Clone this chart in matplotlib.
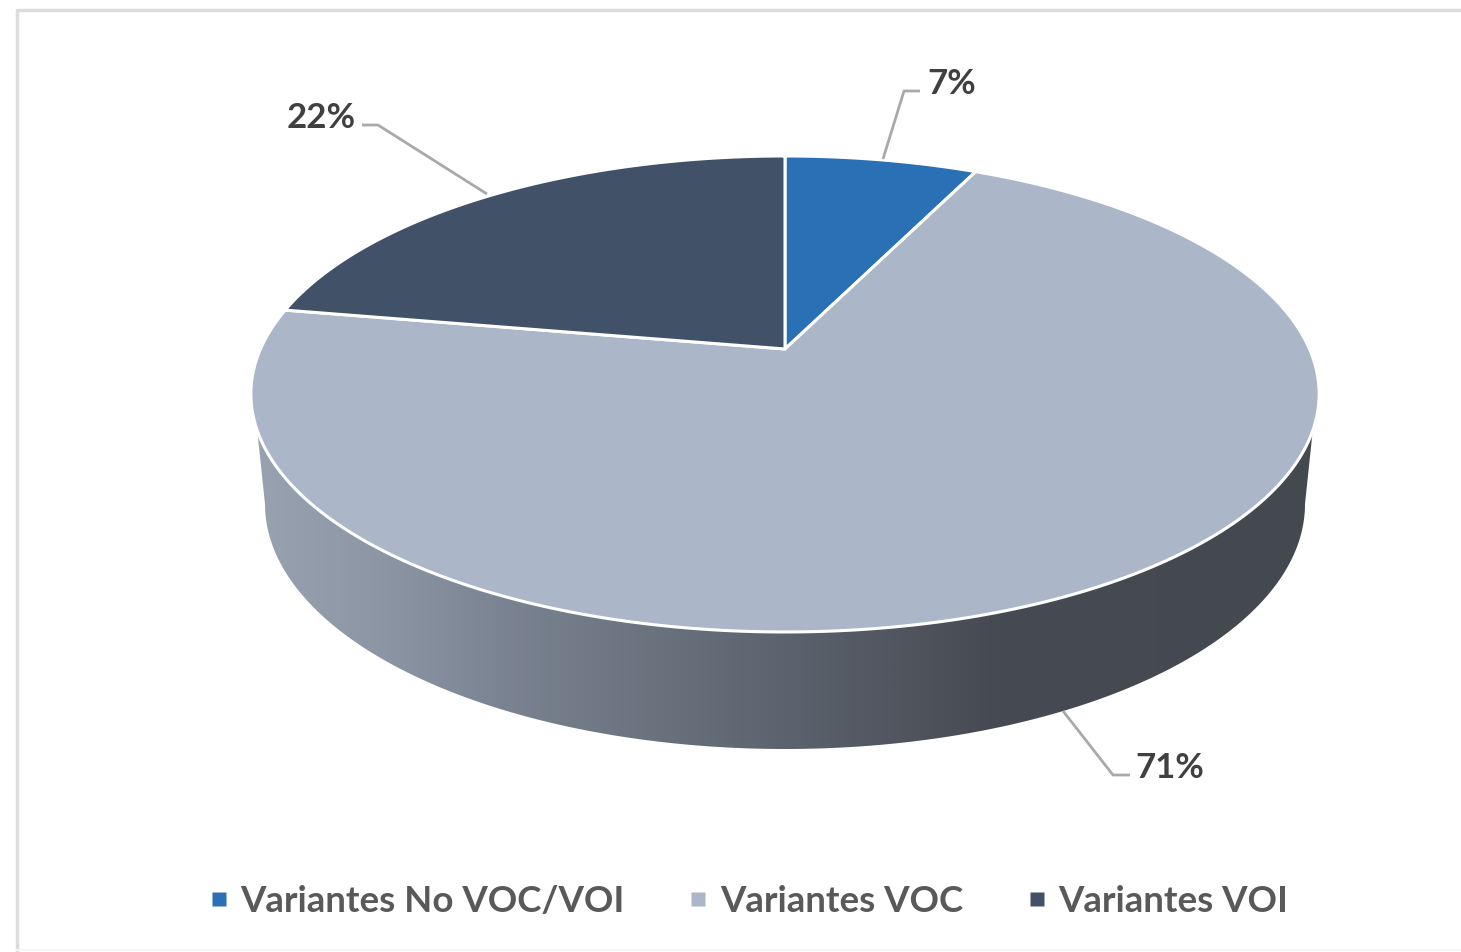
import numpy as np
import matplotlib
matplotlib.use("Agg")
import matplotlib.pyplot as plt
from matplotlib.colors import LinearSegmentedColormap
from matplotlib.lines import Line2D
from matplotlib.patches import Polygon

categories = ["Variantes No VOC/VOI", "Variantes VOC", "Variantes VOI"]
values = [7.0, 70.8, 22.2]
value_labels = ["7%", "71%", "22%"]
colors = ["#2a70b4", "#abb7c8", "#415168"]

W, H = 1461, 953
plt.rcParams["font.family"] = ["Lato", "DejaVu Sans"]
fig = plt.figure(figsize=(W / 100, H / 100), dpi=100, facecolor="white")
ax = fig.add_axes([0, 0, 1, 1])

wedges, _ = ax.pie(values, startangle=90, counterclock=False, radius=1, center=(0, 0))
ax.set_aspect("auto")

# Tilted-disc projection of the unit circle into the canvas
AX, AY, A, B, K = 785, 350, 524.5, 229.5, 0.189


def project(u, v):
    d = 1 + K * v
    return AX + A * u / d, AY - B * v / d


# Side wall with its horizontal shading
t = np.linspace(0, 2 * np.pi, 721)
tx, ty = project(np.cos(t), np.sin(t))
front = ty > 430
order = np.argsort(tx[front])
top_x, top_y = tx[front][order], ty[front][order]
bcx, bcy, brx, bry = 785, 505, 520, 245
a = np.linspace(np.pi, 2 * np.pi, 361)
bot_x, bot_y = bcx + brx * np.cos(a), bcy - bry * np.sin(a)
wall_pts = np.column_stack([
    np.r_[top_x[0], bot_x, top_x[-1], top_x[::-1]],
    np.r_[top_y[0], bot_y, top_y[-1], top_y[::-1]],
])
shade = LinearSegmentedColormap.from_list("shade", [
    (0.00, "#98a2b1"), (0.12, "#8d96a5"), (0.23, "#7b8492"),
    (0.50, "#5c636e"), (0.70, "#464a52"), (1.00, "#44484f"),
])
img = ax.imshow(np.linspace(0, 1, 512)[None, :], cmap=shade, aspect="auto",
                extent=(250, 1320, 760, 420), zorder=1, interpolation="bilinear")
img.set_clip_path(Polygon(wall_pts, closed=True, transform=ax.transData))

# Top face of the disc, from the pie's own wedge angles
for w, c in zip(wedges, colors):
    th = np.radians(np.linspace(w.theta1, w.theta2, 300))
    x, y = project(np.cos(th), np.sin(th))
    ax.fill(np.r_[AX, x], np.r_[AY, y], facecolor=c, edgecolor="white",
            linewidth=2.2, joinstyle="round", zorder=2)
    w.remove()

# Leader lines and value labels
leader = dict(color="#a9a9a9", linewidth=2, solid_capstyle="butt", zorder=3)
ax.plot([883, 904, 920], [160, 92, 92], **leader)
ax.plot([487, 378, 362], [195, 126, 126], **leader)
ax.plot([1063, 1113, 1130], [712, 776, 776], **leader)
lab = dict(fontsize=25, fontweight="bold", color="#404040", va="center", ha="left")
ax.text(927, 84, value_labels[0], **lab)
ax.text(1135, 768, value_labels[1], **lab)
ax.text(287, 118, value_labels[2], **lab)

# Legend
handles = [Line2D([], [], linestyle="none", marker="s", markersize=10.5,
                  markerfacecolor=c, markeredgecolor="none") for c in colors]
leg = ax.legend(handles, categories, ncol=3, frameon=False, loc="center",
                bbox_to_anchor=(748 / W, 1 - 902 / H),
                bbox_transform=fig.transFigure, prop=dict(size=26.4, weight="bold"),
                labelcolor="#595959", handlelength=0.6, handletextpad=0.28,
                columnspacing=1.72, borderpad=0, borderaxespad=0)

# Chart frame
ax.plot([17, 17, W], [H, 11, 11], color="#dcdcdc", linewidth=2.5, zorder=0)
ax.plot([17, W], [951, 951], color="#f5f5f5", linewidth=1.5, zorder=0)

ax.set_xlim(0, W)
ax.set_ylim(H, 0)
ax.axis("off")
fig.savefig("out.png", dpi=100, facecolor="white")
